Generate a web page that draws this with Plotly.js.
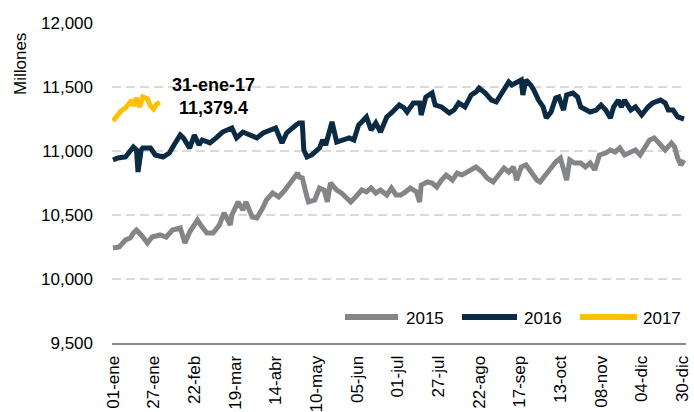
<!DOCTYPE html>
<html>
<head>
<meta charset="utf-8">
<script src="https://cdn.plot.ly/plotly-3.0.1.min.js"></script>
<style>html,body{margin:0;padding:0;background:#fff;}#chart{width:694px;height:412px;}</style>
</head>
<body>
<div id="chart"></div>
<script>
// Day-of-year positions (0 = 01-ene) and values
const days2015 = [0,4,8,11,13,15,18,22,25,30,34,38,43,46,49,54,57,60,64,68,71,75,76,80,83,85,89,92,96,98,102,106,110,113,116,118,119,121,124,125,129,132,135,137,139,143,146,149,152,155,159,162,165,168,171,175,178,181,184,187,190,194,196,197,201,204,207,210,213,217,220,223,226,229,232,236,239,243,246,250,253,256,258,261,264,267,271,273,276,279,283,286,290,292,295,299,302,305,308,311,315,318,321,324,327,331,334,337,340,343,346,350,353,357,359,361,363,365];
const values2015 = [10242,10250,10305,10320,10359,10383,10344,10281,10328,10344,10328,10383,10398,10281,10367,10461,10406,10359,10359,10422,10516,10422,10500,10602,10539,10602,10484,10477,10562,10617,10672,10641,10695,10750,10797,10828,10797,10789,10641,10602,10617,10711,10695,10602,10750,10695,10672,10641,10602,10641,10695,10680,10711,10672,10695,10656,10711,10656,10656,10680,10711,10680,10602,10734,10758,10750,10719,10773,10812,10773,10828,10812,10836,10852,10875,10836,10790,10758,10812,10867,10836,10875,10773,10875,10891,10836,10773,10758,10812,10852,10914,10945,10773,10930,10906,10906,10875,10906,10852,10969,10984,11008,10992,11023,10969,10992,11008,10969,11031,11086,11102,11047,11008,11062,11031,10945,10890,10930];

const days2016 = [0,3,8,13,15,16,18,19,24,27,32,36,39,43,45,47,49,52,55,57,62,66,70,76,79,83,87,92,96,100,104,108,111,117,119,121,122,124,127,132,134,136,140,143,146,151,154,157,159,162,165,168,171,175,178,183,186,188,192,196,197,200,204,206,210,215,218,221,225,229,232,234,238,242,245,248,253,255,258,261,262,264,267,269,272,275,277,280,283,285,288,290,294,297,299,302,305,309,312,315,318,320,323,325,327,331,334,338,342,345,350,353,355,358,361,365];
const values2016 = [10930,10945,10953,11031,11008,10836,11008,11023,11023,10969,10953,10984,11047,11125,11102,11070,11023,11125,11047,11086,11063,11102,11148,11180,11102,11148,11125,11102,11141,11164,11180,11063,11141,11203,11219,11219,11008,10953,10969,11023,11086,11047,11227,11070,11086,11102,11086,11203,11227,11266,11164,11219,11148,11266,11297,11359,11336,11305,11375,11375,11281,11422,11453,11359,11344,11297,11320,11375,11344,11438,11461,11492,11453,11398,11383,11438,11539,11516,11531,11555,11438,11555,11516,11477,11398,11344,11258,11305,11414,11422,11320,11438,11453,11422,11344,11320,11305,11320,11359,11320,11258,11344,11398,11344,11398,11320,11344,11281,11344,11375,11398,11375,11320,11320,11266,11250];

const days2017 = [0,3,5,8,10,12,13,15,17,19,22,24,26,28,30];
const values2017 = [11234,11289,11312,11336,11375,11398,11352,11414,11344,11422,11406,11352,11328,11367,11379.4];

const seriesNames = ['2015','2016','2017'];
const tickDays = [0,26,52,78,104,130,156,182,208,234,260,286,312,338,364];
const tickLabels = ['01-ene','27-ene','22-feb','19-mar','14-abr','10-may','05-jun','01-jul','27-jul','22-ago','17-sep','13-oct','08-nov','04-dic','30-dic'];
const yTicks = [9500,10000,10500,11000,11500,12000];
const lastLabel = '31-ene-17';

const colors = ['#848589','#0b2b45','#ffc000'];
const FONT = '"Liberation Sans", Arial, sans-serif';
const FS = 17;

const traces = [
  {x: days2015, y: values2015, name: seriesNames[0]},
  {x: days2016, y: values2016, name: seriesNames[1]},
  {x: days2017, y: values2017, name: seriesNames[2]}
].map((t, i) => Object.assign(t, {
  type: 'scatter', mode: 'lines', showlegend: false, hoverinfo: 'skip',
  line: {color: colors[i], width: 5, shape: 'linear'}
}));

// Custom legend (positions in paper coords)
const L = 112, W = 574, B = 343, H = 320;
const px = v => (v - L) / W, py = v => (B - v) / H;
const legendItems = [
  {x0: 345, x1: 398, tx: 404},
  {x0: 462, x1: 517, tx: 522},
  {x0: 580, x1: 637, tx: 641}
];
const shapes = legendItems.map((it, i) => ({
  type: 'line', xref: 'paper', yref: 'paper',
  x0: px(it.x0), x1: px(it.x1), y0: py(317), y1: py(317),
  line: {color: colors[i], width: 6}
}));
const annotations = legendItems.map((it, i) => ({
  xref: 'paper', yref: 'paper', x: px(it.tx), y: py(318),
  xanchor: 'left', yanchor: 'middle', showarrow: false,
  text: seriesNames[i], font: {family: FONT, size: FS, color: '#000'}
}));
const lastVal = values2017[values2017.length - 1];
annotations.push({
  xref: 'x', yref: 'y', x: 64, y: 11425, xanchor: 'center', yanchor: 'middle',
  showarrow: false,
  text: '<b>' + lastLabel + '</b><br><b>' + lastVal.toLocaleString('en-US', {minimumFractionDigits: 1, maximumFractionDigits: 1}) + '</b>',
  font: {family: FONT, size: 18, color: '#000'}
});
annotations.push({
  xref: 'paper', yref: 'paper', x: px(20), y: py(64), xanchor: 'center', yanchor: 'middle',
  textangle: -90, showarrow: false, text: 'Millones',
  font: {family: FONT, size: FS, color: '#000'}
});

const layout = {
  width: 694, height: 412,
  margin: {l: 112, r: 8, t: 23, b: 69, pad: 0},
  paper_bgcolor: '#fff', plot_bgcolor: '#fff',
  font: {family: FONT, size: FS, color: '#000'},
  showlegend: false,
  xaxis: {
    range: [-0.64, 366.3], tickmode: 'array', tickvals: tickDays, ticktext: tickLabels,
    tickangle: -90, showgrid: false, zeroline: false, showline: true,
    linecolor: '#8c8c8c', linewidth: 2, ticks: '', ticklabelstandoff: 4,
    tickfont: {family: FONT, size: FS, color: '#000'}
  },
  yaxis: {
    range: [9500, 12000], tickmode: 'array', tickvals: yTicks, tickformat: ',d',
    showgrid: true, gridcolor: '#d9d9d9', gridwidth: 1.5, griddash: '9px,5px',
    zeroline: false, showline: false, ticks: '', ticklabelstandoff: 18,
    tickfont: {family: FONT, size: FS, color: '#000'}
  },
  shapes: shapes,
  annotations: annotations
};

Plotly.newPlot('chart', traces, layout, {displayModeBar: false, staticPlot: true});
</script>
</body>
</html>
